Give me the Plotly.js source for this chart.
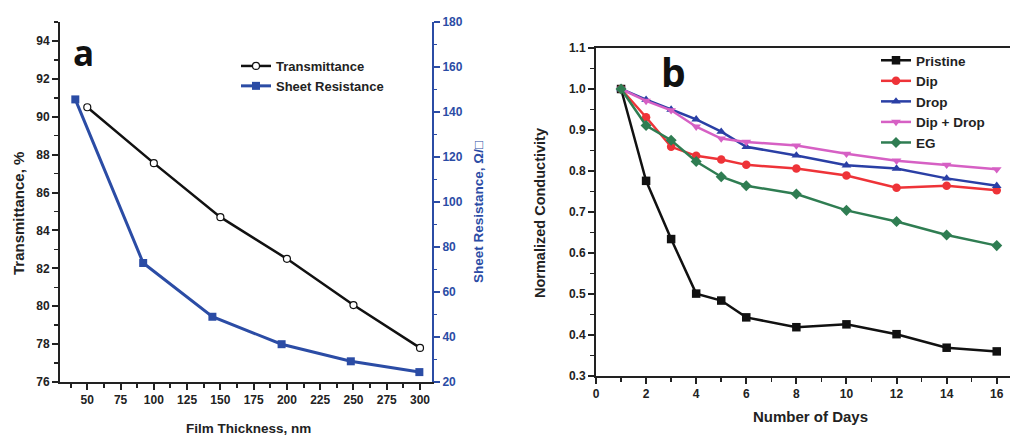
<!DOCTYPE html>
<html>
<head>
<meta charset="utf-8">
<script src="https://cdn.plot.ly/plotly-3.0.1.min.js"></script>
<style>html,body{margin:0;padding:0;background:#fff;}#chart{width:1010px;height:436px;}</style>
</head>
<body>
<div id="chart"></div>
<script>
// ---- Panel a data ----
const thicknessT = [50, 100, 150, 200, 250, 300];
const transmittance = [90.5, 87.55, 84.7, 82.5, 80.06, 77.8];
const thicknessR = [41, 92, 144, 196, 248, 299.5];
const sheetResistance = [145.6, 72.9, 49, 36.8, 29.2, 24.4];

// ---- Panel b data ----
const days = [1, 2, 3, 4, 5, 6, 8, 10, 12, 14, 16];
const pristine = [1.0, 0.776, 0.634, 0.501, 0.484, 0.443, 0.419, 0.426, 0.402, 0.369, 0.360];
const dip = [1.0, 0.931, 0.859, 0.837, 0.828, 0.815, 0.806, 0.789, 0.759, 0.764, 0.753];
const drop = [1.0, 0.974, 0.950, 0.926, 0.896, 0.859, 0.838, 0.814, 0.806, 0.782, 0.764];
const dipDrop = [1.0, 0.971, 0.948, 0.908, 0.879, 0.871, 0.862, 0.842, 0.825, 0.815, 0.804];
const eg = [1.0, 0.911, 0.875, 0.823, 0.786, 0.764, 0.744, 0.704, 0.677, 0.644, 0.618];

const seriesB = [
  {name: 'Pristine', y: pristine, color: '#111111', symbol: 'square'},
  {name: 'Dip', y: dip, color: '#ee3338', symbol: 'circle'},
  {name: 'Drop', y: drop, color: '#2a3fa5', symbol: 'triangle-up'},
  {name: 'Dip + Drop', y: dipDrop, color: '#d660c4', symbol: 'triangle-down'},
  {name: 'EG', y: eg, color: '#2f7d52', symbol: 'diamond'}
];

const W = 1010, H = 436;
const px = v => v / W;
const py = v => 1 - v / H;
const BLUE = '#2b4ca5';
const FONT = 'Liberation Sans, Arial, sans-serif';
const NARROW = 'Liberation Sans Narrow, Liberation Sans, Arial, sans-serif';

const traces = [
  {x: thicknessT, y: transmittance, name: 'Transmittance', type: 'scatter', mode: 'lines+markers',
   xaxis: 'x', yaxis: 'y', legend: 'legend',
   line: {color: '#111111', width: 2.5},
   marker: {symbol: 'circle', size: 7, color: '#ffffff', line: {color: '#111111', width: 1.2}}},
  {x: thicknessR, y: sheetResistance, name: 'Sheet Resistance', type: 'scatter', mode: 'lines+markers',
   xaxis: 'x', yaxis: 'y2', legend: 'legend',
   line: {color: BLUE, width: 3},
   marker: {symbol: 'square', size: 8, color: BLUE}}
];
seriesB.forEach(s => traces.push({
  x: days, y: s.y, name: s.name, type: 'scatter', mode: 'lines+markers',
  xaxis: 'x2', yaxis: 'y3', legend: 'legend2',
  line: {color: s.color, width: 2.5},
  marker: {symbol: s.symbol, size: 8.5, color: s.color}
}));

const tickFontA = {family: NARROW, size: 12, color: '#222', weight: 'bold'};
const tickFontB = {family: FONT, size: 12, color: '#222', weight: 'bold'};

const layout = {
  width: W, height: H,
  margin: {l: 0, r: 0, t: 0, b: 0},
  paper_bgcolor: '#ffffff', plot_bgcolor: 'rgba(0,0,0,0)',
  showlegend: true,
  xaxis: {
    domain: [px(60), px(432)], range: [29.5, 309], anchor: 'y',
    tick0: 50, dtick: 25, ticks: 'outside', ticklen: 6, tickwidth: 2, tickcolor: '#222',
    minor: {tick0: 37.5, dtick: 12.5, ticks: 'outside', ticklen: 4, tickwidth: 2, tickcolor: '#222'},
    showline: true, linewidth: 2, linecolor: '#222', showgrid: false, zeroline: false,
    tickfont: tickFontA
  },
  xaxis3: {
    overlaying: 'x', side: 'top', anchor: 'y', range: [29.5, 309],
    tick0: 37.5, dtick: 12.5, ticks: 'inside', ticklen: 6, tickwidth: 2, tickcolor: '#222',
    showticklabels: false, showline: true, linewidth: 2, linecolor: '#222', showgrid: false, zeroline: false
  },
  yaxis: {
    domain: [py(382), py(22)], range: [76, 95], anchor: 'x',
    tick0: 76, dtick: 2, ticks: 'outside', ticklen: 6, tickwidth: 2, tickcolor: '#222',
    minor: {dtick: 1, ticks: 'outside', ticklen: 4, tickwidth: 1.5, tickcolor: '#222'},
    showline: true, linewidth: 2, linecolor: '#222', showgrid: false, zeroline: false,
    tickfont: tickFontA
  },
  yaxis2: {
    overlaying: 'y', side: 'right', anchor: 'x', range: [20, 180],
    tick0: 20, dtick: 20, ticks: 'outside', ticklen: 6, tickwidth: 2, tickcolor: BLUE,
    minor: {dtick: 10, ticks: 'outside', ticklen: 3, tickwidth: 1.5, tickcolor: BLUE},
    showline: true, linewidth: 2, linecolor: BLUE, showgrid: false, zeroline: false,
    tickfont: {family: NARROW, size: 12, color: BLUE, weight: 'bold'}
  },
  xaxis2: {
    domain: [px(596), 1], range: [0, 16.53], anchor: 'y3',
    tick0: 0, dtick: 2, ticks: 'outside', ticklen: 6, tickwidth: 2, tickcolor: '#222',
    minor: {dtick: 1, ticks: 'outside', ticklen: 4, tickwidth: 1.5, tickcolor: '#222'},
    showline: true, mirror: true, linewidth: 2, linecolor: '#222', showgrid: false, zeroline: false,
    tickfont: tickFontB
  },
  yaxis3: {
    domain: [py(376), py(48)], range: [0.3, 1.1], anchor: 'x2',
    tick0: 0.3, dtick: 0.1, tickformat: '.1f', ticks: 'outside', ticklen: 6, tickwidth: 2, tickcolor: '#222',
    minor: {dtick: 0.05, ticks: 'outside', ticklen: 4, tickwidth: 1.5, tickcolor: '#222'},
    showline: true, linewidth: 2, linecolor: '#222', showgrid: false, zeroline: false,
    tickfont: tickFontB
  },
  legend: {
    x: px(236), y: py(51), xanchor: 'left', yanchor: 'top',
    bgcolor: 'rgba(0,0,0,0)', borderwidth: 0, tracegroupgap: 0,
    font: {family: NARROW, size: 13, color: '#222', weight: 'bold'}
  },
  legend2: {
    x: px(876), y: py(45), xanchor: 'left', yanchor: 'top',
    bgcolor: 'rgba(0,0,0,0)', borderwidth: 0, tracegroupgap: 0,
    font: {family: FONT, size: 13.5, color: '#222', weight: 'bold'}
  },
  annotations: [
    {text: 'a', xref: 'paper', yref: 'paper', x: px(83), y: py(78), xanchor: 'center', yanchor: 'bottom',
     showarrow: false, font: {family: 'Open Sans, sans-serif', size: 35, color: '#111', weight: 'bold'}},
    {text: 'b', xref: 'paper', yref: 'paper', x: px(673), y: py(100), xanchor: 'center', yanchor: 'bottom',
     showarrow: false, font: {family: 'Open Sans, sans-serif', size: 39, color: '#111', weight: 'bold'}},
    {text: 'Transmittance, %', xref: 'paper', yref: 'paper', x: px(18), y: py(214), xanchor: 'center', yanchor: 'middle',
     textangle: -90, showarrow: false, font: {family: FONT, size: 15, color: '#222', weight: 'bold'}},
    {text: 'Sheet Resistance, Ω/□', xref: 'paper', yref: 'paper', x: px(478), y: py(212), xanchor: 'center', yanchor: 'middle',
     textangle: -90, showarrow: false, font: {family: FONT, size: 13.5, color: BLUE, weight: 'bold'}},
    {text: 'Film Thickness, nm', xref: 'paper', yref: 'paper', x: px(248), y: py(428), xanchor: 'center', yanchor: 'middle',
     showarrow: false, font: {family: NARROW, size: 13.5, color: '#222', weight: 'bold'}},
    {text: 'Normalized Conductivity', xref: 'paper', yref: 'paper', x: px(540), y: py(213), xanchor: 'center', yanchor: 'middle',
     textangle: -90, showarrow: false, font: {family: FONT, size: 14.5, color: '#222', weight: 'bold'}},
    {text: 'Number of Days', xref: 'paper', yref: 'paper', x: px(810), y: py(416), xanchor: 'center', yanchor: 'middle',
     showarrow: false, font: {family: FONT, size: 15, color: '#222', weight: 'bold'}}
  ]
};

Plotly.newPlot('chart', traces, layout, {displayModeBar: false, staticPlot: true});
</script>
</body>
</html>
